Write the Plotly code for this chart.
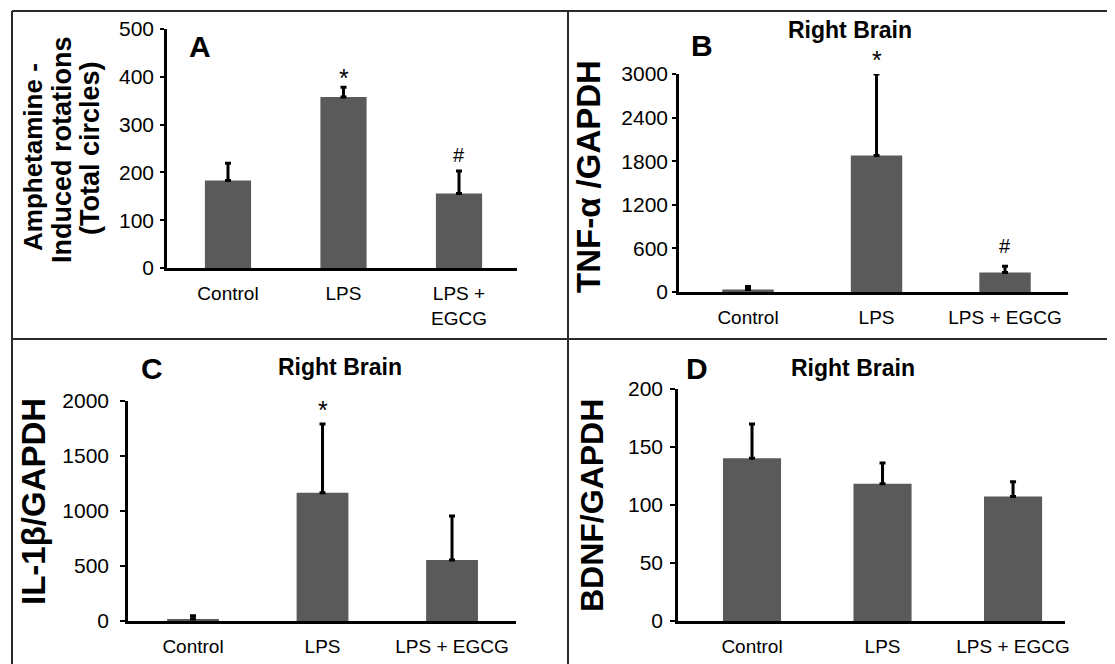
import plotly.graph_objects as go

# ---------------- data ----------------
categories_a = ["Control", "LPS", "LPS +<br>EGCG"]
categories = ["Control", "LPS", "LPS + EGCG"]

rotation_mean = [183, 358, 156]
rotation_err = [36, 20, 47]
rotation_marks = ["", "*", "#"]
rotation_mark_y = [0, 398, 236]

tnf_mean = [35, 1878, 270]
tnf_err = [40, 1122, 83]
tnf_marks = ["", "*", "#"]
tnf_mark_y = [0, 3190, 630]

il1b_mean = [18, 1167, 555]
il1b_err = [30, 624, 400]
il1b_marks = ["", "*", ""]
il1b_mark_y = [0, 1920, 0]

bdnf_mean = [140.4, 118.3, 107.3]
bdnf_err = [29.4, 17.8, 12.7]

yticks_a = [0, 100, 200, 300, 400, 500]
yticks_b = [0, 600, 1200, 1800, 2400, 3000]
yticks_c = [0, 500, 1000, 1500, 2000]
yticks_d = [0, 50, 100, 150, 200]

# ---------------- styling ----------------
W, H = 1115, 664
OFF = 8  # page body margin
FONT = "Arial, Liberation Sans, sans-serif"
BAR = "#5a5a5a"


def fx(px):
    return (px - OFF) / W


def fy(py):
    return 1 - (py - OFF) / H


fig = go.Figure()

panels = [
    dict(x=categories_a, y=rotation_mean, e=rotation_err, xa="x", ya="y", w=0.40),
    dict(x=categories, y=tnf_mean, e=tnf_err, xa="x2", ya="y2", w=0.40),
    dict(x=categories, y=il1b_mean, e=il1b_err, xa="x3", ya="y3", w=0.40),
    dict(x=categories, y=bdnf_mean, e=bdnf_err, xa="x4", ya="y4", w=0.445),
]
for p in panels:
    fig.add_trace(go.Bar(
        x=p["x"], y=p["y"], xaxis=p["xa"], yaxis=p["ya"], width=p["w"],
        marker=dict(color=BAR, line=dict(width=0)),
        error_y=dict(type="data", array=p["e"], arrayminus=[0] * len(p["e"]),
                     symmetric=False, color="black", thickness=3, width=3),
        showlegend=False, hoverinfo="skip",
    ))

axis_common = dict(showline=True, linecolor="black", showgrid=False, zeroline=False,
                   automargin=False, fixedrange=True)

dom = {
    1: dict(x=(167, 517), y=(29, 268), xr=(-0.528, 2.502), yr=(0, 500), yt=yticks_a, so=2, tl=4),
    2: dict(x=(679, 1068), y=(74, 292), xr=(-0.537, 2.49), yr=(0, 3000), yt=yticks_b, so=0, tl=4),
    3: dict(x=(128, 516), y=(401, 621), xr=(-0.502, 2.494), yr=(0, 2000), yt=yticks_c, so=7, tl=5),
    4: dict(x=(678, 1065), y=(389, 621), xr=(-0.567, 2.398), yr=(0, 200), yt=yticks_d, so=3, tl=5),
}
layout_axes = {}
for i, d in dom.items():
    sx = "" if i == 1 else str(i)
    layout_axes["xaxis" + sx] = dict(
        axis_common, domain=[fx(d["x"][0]), fx(d["x"][1])], range=list(d["xr"]),
        anchor="y" + sx, type="category", ticks="", linewidth=3, ticklabelstandoff=6,
        tickfont=dict(family=FONT, size=19, color="black"))
    layout_axes["yaxis" + sx] = dict(
        axis_common, domain=[fy(d["y"][1]), fy(d["y"][0])], range=list(d["yr"]),
        anchor="x" + sx, tickvals=d["yt"], ticks="outside", ticklen=d["tl"], tickwidth=2,
        tickcolor="black", linewidth=2.5, ticklabelstandoff=d["so"],
        tickfont=dict(family=FONT, size=21, color="black"))

annotations = []
# significance markers (y given in data units, placed via axis-domain fraction)
for marks, ys, xa, ya, cats, ymax in [
    (rotation_marks, rotation_mark_y, "x", "y", categories_a, 500),
    (tnf_marks, tnf_mark_y, "x2", "y2", categories, 3000),
    (il1b_marks, il1b_mark_y, "x3", "y3", categories, 2000),
]:
    for c, m, yv in zip(cats, marks, ys):
        if m:
            annotations.append(dict(x=c, y=yv / ymax, xref=xa, yref=ya + " domain", text=m,
                                    showarrow=False, yanchor="middle",
                                    font=dict(family=FONT, size=25 if m == "*" else 20,
                                              color="black")))

# panel letters and titles
for txt, x, y, size in [("A", 200, 47, 30), ("B", 702, 45, 30), ("C", 152, 368, 30), ("D", 697, 368, 30),
                        ("Right Brain", 850, 30, 23), ("Right Brain", 340, 367, 23),
                        ("Right Brain", 853, 368, 23)]:
    annotations.append(dict(x=fx(x), y=fy(y), xref="paper", yref="paper", text="<b>%s</b>" % txt,
                            showarrow=False, xanchor="center", yanchor="middle",
                            font=dict(family=FONT, size=size, color="black")))

# y-axis titles (rotated)
for txt, x, y, size in [("Amphetamine -", 33, 157, 26), ("Induced rotations", 62, 150, 27),
                        ("(Total circles)", 90, 148, 27),
                        ("TNF-α /GAPDH", 588, 176, 33), ("IL-1β/GAPDH", 33, 502, 33),
                        ("BDNF/GAPDH", 592, 506, 32)]:
    annotations.append(dict(x=fx(x), y=fy(y), xref="paper", yref="paper", text="<b>%s</b>" % txt,
                            showarrow=False, textangle=-90, xanchor="center", yanchor="middle",
                            font=dict(family=FONT, size=size, color="black")))

# panel frame lines
BORDER = "#2a2a2a"
line_style = dict(color=BORDER, width=2)
shapes = [
    dict(type="line", xref="paper", yref="paper", x0=fx(12), x1=fx(12), y0=fy(11), y1=0, line=line_style),
    dict(type="line", xref="paper", yref="paper", x0=fx(12), x1=1, y0=fy(11), y1=fy(11), line=line_style),
    dict(type="line", xref="paper", yref="paper", x0=fx(568), x1=fx(568), y0=fy(11), y1=0, line=line_style),
    dict(type="line", xref="paper", yref="paper", x0=fx(12), x1=1, y0=fy(339), y1=fy(339), line=line_style),
]

fig.update_layout(
    width=W, height=H, margin=dict(l=0, r=0, t=0, b=0),
    paper_bgcolor="white", plot_bgcolor="rgba(0,0,0,0)",
    font=dict(family=FONT, color="black"),
    annotations=annotations, shapes=shapes,
    **layout_axes,
)

fig.write_html("out.html")
